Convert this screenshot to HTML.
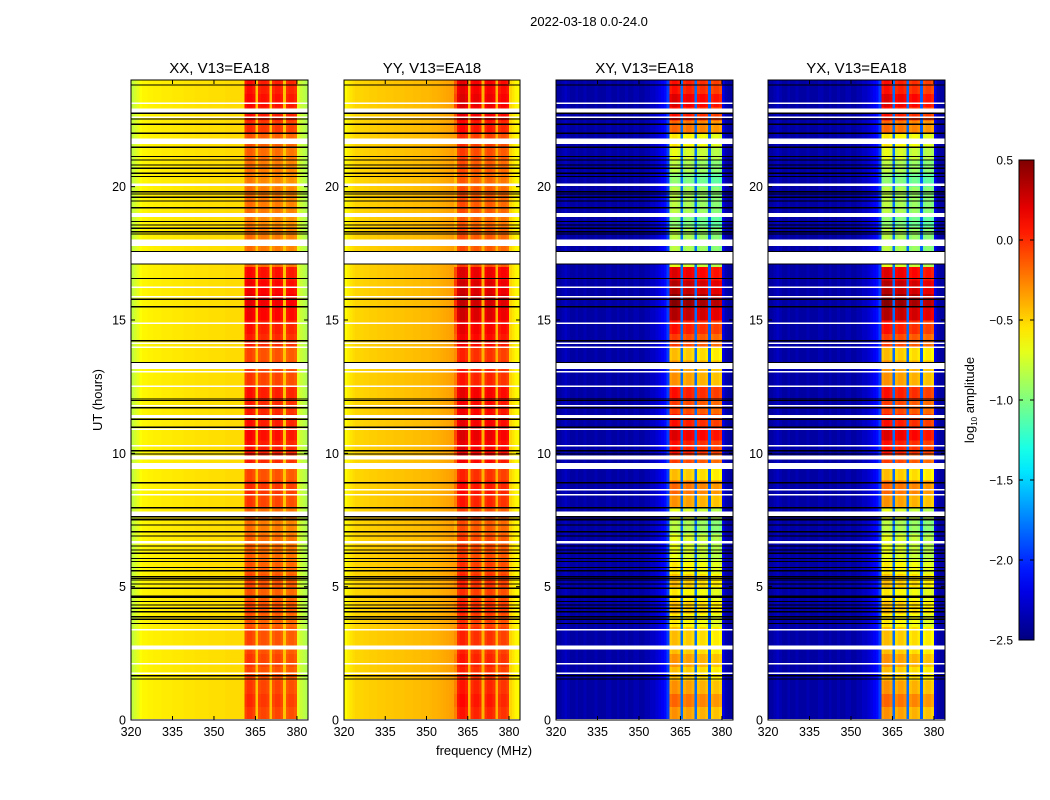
<!DOCTYPE html>
<html><head><meta charset="utf-8">
<style>
html,body{margin:0;padding:0;background:#fff;}
svg{display:block;font-family:"Liberation Sans",sans-serif;}
</style></head>
<body>
<svg id="fig" width="1050" height="800" viewBox="0 0 1050 800" xmlns="http://www.w3.org/2000/svg">
<rect width="1050" height="800" fill="#fff"/>
<text x="589" y="26" font-size="13" text-anchor="middle">2022-03-18 0.0-24.0</text>
<text x="484" y="755" font-size="13" text-anchor="middle">frequency (MHz)</text>
<text x="102" y="400" font-size="13" text-anchor="middle" transform="rotate(-90 102 400)">UT (hours)</text>
<g id="panels"></g>
<g id="cbar"></g>
</svg>
<script>
// ---- data ----
const panelTitles = ["XX, V13=EA18","YY, V13=EA18","XY, V13=EA18","YX, V13=EA18"];
const freqTicks = [320,335,350,365,380];
const timeTicks = [0,5,10,15,20];
const cbarTicks = [0.5,0.0,-0.5,-1.0,-1.5,-2.0,-2.5];
const cbarLabels = ["0.5","0.0","\u22120.5","\u22121.0","\u22121.5","\u22122.0","\u22122.5"];
// per-channel (1 MHz, 320..384) log10 amplitude baseline
const colXX = [-0.8,-0.75,-0.7,-0.63,-0.6,-0.6,-0.59,-0.59,-0.58,-0.58,-0.58,-0.57,-0.57,-0.57,-0.57,-0.56,-0.56,-0.56,-0.56,-0.55,-0.55,-0.55,-0.55,-0.54,-0.54,-0.54,-0.54,-0.54,-0.53,-0.53,-0.53,-0.53,-0.53,-0.53,-0.52,-0.52,-0.52,-0.52,-0.52,-0.52,-0.52,-0.15,-0.1,-0.1,-0.15,-0.45,-0.18,-0.15,-0.15,-0.18,-0.45,-0.2,-0.15,-0.15,-0.2,-0.45,-0.22,-0.18,-0.18,-0.22,-0.7,-0.78,-0.82,-0.85];
const colYY = [-0.62,-0.58,-0.55,-0.52,-0.5,-0.5,-0.5,-0.49,-0.49,-0.48,-0.48,-0.48,-0.47,-0.47,-0.47,-0.46,-0.46,-0.46,-0.45,-0.45,-0.45,-0.45,-0.44,-0.44,-0.44,-0.43,-0.43,-0.43,-0.42,-0.42,-0.42,-0.41,-0.4,-0.4,-0.39,-0.38,-0.37,-0.36,-0.35,-0.34,-0.33,-0.05,0.0,0.0,-0.05,-0.4,-0.1,-0.05,-0.05,-0.1,-0.4,-0.1,-0.05,-0.05,-0.1,-0.4,-0.15,-0.1,-0.1,-0.15,-0.5,-0.55,-0.6,-0.62];
const colXY = [-2.4,-2.4,-2.35,-2.3,-2.35,-2.4,-2.4,-2.35,-2.4,-2.4,-2.35,-2.4,-2.4,-2.4,-2.35,-2.4,-2.4,-2.4,-2.35,-2.35,-2.4,-2.4,-2.35,-2.4,-2.4,-2.35,-2.4,-2.4,-2.35,-2.35,-2.4,-2.4,-2.35,-2.35,-2.3,-2.3,-2.25,-2.2,-2.15,-2.1,-1.95,-0.6,-0.55,-0.55,-0.6,-1.8,-0.65,-0.6,-0.6,-0.65,-1.8,-0.7,-0.65,-0.65,-0.7,-1.85,-0.75,-0.7,-0.7,-0.75,-2.2,-2.35,-2.4,-2.4];
const colYX = [-2.4,-2.4,-2.35,-2.3,-2.35,-2.4,-2.4,-2.35,-2.4,-2.4,-2.35,-2.4,-2.4,-2.4,-2.35,-2.4,-2.4,-2.4,-2.35,-2.35,-2.4,-2.4,-2.35,-2.4,-2.4,-2.35,-2.4,-2.4,-2.35,-2.35,-2.4,-2.4,-2.35,-2.35,-2.3,-2.3,-2.25,-2.2,-2.15,-2.1,-1.95,-0.6,-0.55,-0.55,-0.6,-1.8,-0.65,-0.6,-0.6,-0.65,-1.8,-0.7,-0.65,-0.65,-0.7,-1.85,-0.75,-0.7,-0.7,-0.75,-2.2,-2.35,-2.4,-2.4];
// per half-hour band brightening (0..24 h)
const boost = [0.1,0.15,0.1,0.05,0.1,0.05,0.05,0.0,0.05,0.0,0.05,0.0,-0.05,-0.05,-0.1,-0.05,0.1,0.15,0.05,0.2,0.25,0.3,0.25,0.2,0.25,0.1,0.1,0.05,0.2,0.25,0.35,0.4,0.35,0.3,-0.05,-0.1,-0.1,-0.15,-0.1,-0.1,-0.15,-0.1,-0.05,0.0,0.15,0.25,0.3,0.25];
// flagged (white) intervals in hours [start,end]
const gapStart = [23.1,22.77,22.6,21.6,20.03,18.87,17.77,17.12,16.2,15.85,14.85,14.1,13.95,13.16,13.04,12.48,11.76,11.33,10.88,10.27,9.77,9.41,8.6,8.42,7.62,6.62,3.36,2.65,2.08,1.74,0.0];
const gapEnd   = [23.15,22.94,22.64,21.81,20.12,19.02,18.02,17.56,16.26,15.9,14.9,14.15,14.0,13.4,13.09,12.54,11.81,11.44,10.93,10.32,9.92,9.63,8.66,8.47,7.81,6.72,3.41,2.8,2.13,1.78,0.04];
// flagged (black) single-integration rows in hours
const blackLines = [23.81,22.75,22.54,22.34,22.0,21.48,21.13,21.0,20.81,20.69,20.5,20.38,19.81,19.73,19.6,19.46,19.21,18.69,18.56,18.44,18.31,18.22,17.57,17.1,16.56,15.78,15.5,14.22,13.41,12.04,11.98,11.71,11.28,10.98,10.1,9.97,8.9,7.96,7.54,7.62,7.5,7.31,7.06,6.9,6.53,6.375,6.25,6.06,5.94,5.72,5.6,5.375,5.31,5.25,5.1,4.94,4.65,4.6,4.44,4.31,4.19,4.06,3.875,3.78,3.62,1.66,1.54];
const boostScale = [0.8,0.8,2.6,2.6];
const colData = [colXX,colYY,colXY,colYX];

// ---- layout ----
const panelX = [131,344,556,768], panelW = [177,176,177,177];
const axTop = 80, axBot = 720;
const fMin = 320, fMax = 384, tMin = 0, tMax = 24;
const NS = "http://www.w3.org/2000/svg";
function el(tag, attrs, parent){const e=document.createElementNS(NS,tag);for(const k in attrs)e.setAttribute(k,attrs[k]);parent.appendChild(e);return e;}
function jet(v){let t=(v+2.5)/3;t=Math.max(0,Math.min(1,t));
  const c=x=>Math.round(255*Math.max(0,Math.min(1,x)));
  return `rgb(${c(1.5-Math.abs(4*t-3))},${c(1.5-Math.abs(4*t-2))},${c(1.5-Math.abs(4*t-1))})`;}
const panels = document.getElementById('panels');
for(let p=0;p<4;p++){
  const x0=panelX[p], w=panelW[p];
  const xs=f=>x0+(f-fMin)/(fMax-fMin)*w;
  const ys=t=>axBot-(t-tMin)/(tMax-tMin)*(axBot-axTop);
  const g=el('g',{},panels);
  
  
  const hm=el('g',{'shape-rendering':'crispEdges'},g);
  
  
  const col=colData[p], nt=boost.length, nf=col.length;
  for(let i=0;i<nt;i++){
    const t0=i*(tMax-tMin)/nt, t1=(i+1)*(tMax-tMin)/nt;
    for(let j=0;j<nf;j++){
      const f0=fMin+j*(fMax-fMin)/nf, f1=fMin+(j+1)*(fMax-fMin)/nf;
      const inBand = col[j] > (p<2 ? -0.36 : -1.2) && f0>=360;
      const v=col[j]+(inBand?boost[i]*boostScale[p]:0);
      const r=el('rect',{x:xs(f0),y:ys(t1),width:xs(f1)-xs(f0)+0.5,height:ys(t0)-ys(t1)+0.5,fill:jet(v)},hm);
      
      
    }
  }
  for(let k=0;k<gapStart.length;k++){
    const r=el('rect',{x:x0,y:ys(gapEnd[k]),width:w,height:Math.max(1.5,ys(gapStart[k])-ys(gapEnd[k])),fill:'#fff'},hm);
    
    
  }
  for(let k=0;k<blackLines.length;k++){
    const r=el('rect',{x:x0,y:ys(blackLines[k])-0.6,width:w,height:1.2,fill:'#000'},hm);
    
    
  }
  const fr=el('rect',{x:x0,y:axTop,width:w,height:axBot-axTop,fill:'none',stroke:'#000','stroke-width':1},g);
  
  
  const tt=el('text',{x:x0+w/2,y:axTop-7,'font-size':15,'text-anchor':'middle'},g);
  tt.textContent=panelTitles[p];
  
  
  freqTicks.forEach(f=>{
    const x=xs(f);
    el('line',{x1:x,x2:x,y1:axBot,y2:axBot-4,stroke:'#000'},g);
    el('line',{x1:x,x2:x,y1:axTop,y2:axTop+4,stroke:'#000'},g);
    const l=el('text',{x:x,y:axBot+16,'font-size':12.5,'text-anchor':'middle'},g);
    l.textContent=f;
    
    
  });
  timeTicks.forEach(t=>{
    const y=ys(t);
    el('line',{x1:x0,x2:x0+4,y1:y,y2:y,stroke:'#000'},g);
    el('line',{x1:x0+w,x2:x0+w-4,y1:y,y2:y,stroke:'#000'},g);
    const l=el('text',{x:x0-5,y:y+4.5,'font-size':12.5,'text-anchor':'end'},g);
    l.textContent=t;
    
    
  });
}
// colorbar
const cb=document.getElementById('cbar');


const cbX=1019,cbW=15,cbT=160,cbB=640;
const cv=v=>cbB-(v+2.5)/3*(cbB-cbT);
const defs=el('defs',{},cb);
const lg=el('linearGradient',{id:'jetg',x1:0,y1:1,x2:0,y2:0},defs);
for(let k=0;k<=20;k++){const v=-2.5+3*k/20;el('stop',{offset:k/20,'stop-color':jet(v)},lg);}
el('rect',{x:cbX,y:cbT,width:cbW,height:cbB-cbT,fill:'url(#jetg)',stroke:'#000','stroke-width':1},cb);
cbarTicks.forEach((v,k)=>{
  const y=cv(v);
  el('line',{x1:cbX,x2:cbX+4,y1:y,y2:y,stroke:'#000'},cb);
  el('line',{x1:cbX+cbW,x2:cbX+cbW-4,y1:y,y2:y,stroke:'#000'},cb);
  const l=el('text',{x:cbX-6,y:y+4.5,'font-size':12,'text-anchor':'end'},cb);
  l.textContent=cbarLabels[k];
  
  
});
const cl=el('text',{x:974,y:400,'font-size':13,'text-anchor':'middle',transform:'rotate(-90 974 400)'},cb);


cl.innerHTML='log<tspan font-size="8" dy="3">10</tspan><tspan dy="-3"> amplitude</tspan>';
</script>
</body></html>
